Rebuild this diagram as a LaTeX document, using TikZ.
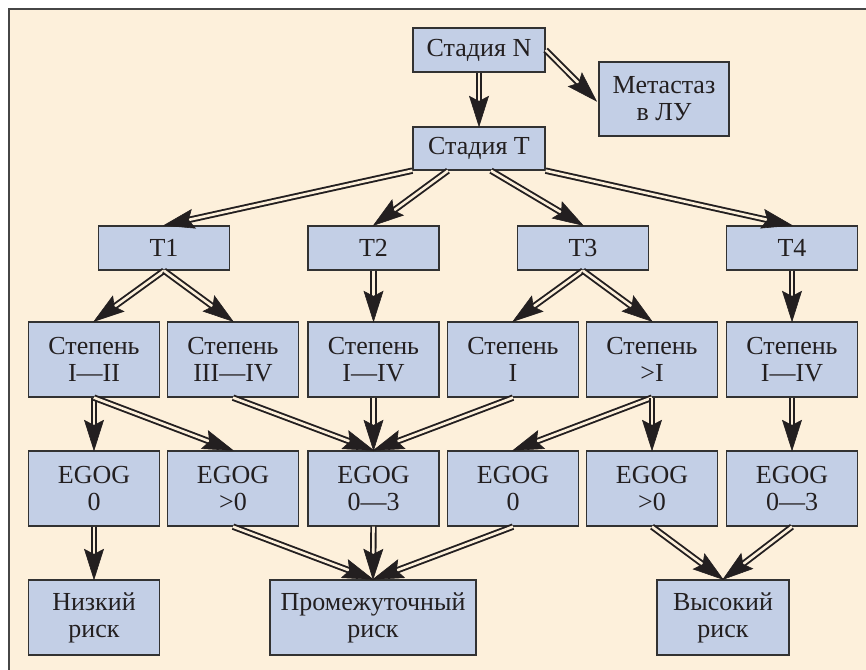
\documentclass[tikz,border=0pt]{standalone}
\usepackage{fontspec}
\setmainfont{Liberation Serif}
\usetikzlibrary{calc}
\definecolor{bg}{RGB}{253,240,219}
\definecolor{boxfill}{RGB}{195,207,230}
\definecolor{boxline}{RGB}{50,50,50}
\definecolor{framecol}{RGB}{70,70,70}
\definecolor{txt}{RGB}{35,31,32}
\newcommand\dblarr[2]{%
  \draw[dblline] (#1) -- (#2);
  \coordinate (tipback) at ($(#2)!30pt!(#1)$);
  \filldraw[tipst] (#2) -- ($(tipback)!9.5pt!90:(#2)$) -- ($(#2)!25pt!(#1)$)
     -- ($(tipback)!9.5pt!-90:(#2)$) -- cycle;}
\begin{document}
\begin{tikzpicture}[x=1pt,y=-1pt,
  box/.style={draw=boxline, fill=boxfill, line width=1.3pt, minimum width=131pt,
    minimum height=44pt, align=center, inner sep=0pt, text=txt,
    font=\fontsize{26}{27}\selectfont},
  tall/.style={box, minimum height=75pt},
  dblline/.style={draw=txt, line width=1.9pt, double=bg, double distance=2.6pt,
    shorten >=23pt},
  tipst/.style={draw=txt, fill=txt, line width=0.6pt, line join=miter}]
\useasboundingbox (0,0) rectangle (866,669);
\begin{scope}
\clip (0,0) rectangle (866,669);
\fill[white] (0,0) rectangle (866,669);
\draw[fill=bg, draw=framecol, line width=1.5pt] (9,9) rectangle (890,700);
\end{scope}
% row 0
\node[box, minimum width=132pt] (N) at (479,50) {Стадия N};
\node[tall, minimum width=130pt, minimum height=74pt] (M) at (664,99) {Метастаз\\в ЛУ};
\node[box, minimum width=132pt, minimum height=43pt] (T) at (479,148.5) {Стадия T};
% T row
\node[box] (T1) at (164,248) {T1};
\node[box] (T2) at (373.5,248) {T2};
\node[box] (T3) at (583,248) {T3};
\node[box] (T4) at (792,248) {T4};
% degree row
\node[tall] (S1) at (94,359.5) {Степень\\I—II};
\node[tall] (S2) at (233,359.5) {Степень\\III—IV};
\node[tall] (S3) at (373.5,359.5) {Степень\\I—IV};
\node[tall] (S4) at (513,359.5) {Степень\\I};
\node[tall] (S5) at (652,359.5) {Степень\\>I};
\node[tall] (S6) at (792,359.5) {Степень\\I—IV};
% EGOG row
\node[tall] (E1) at (94,488.5) {EGOG\\0};
\node[tall] (E2) at (233,488.5) {EGOG\\>0};
\node[tall] (E3) at (373.5,488.5) {EGOG\\0—3};
\node[tall] (E4) at (513,488.5) {EGOG\\0};
\node[tall] (E5) at (652,488.5) {EGOG\\>0};
\node[tall] (E6) at (792,488.5) {EGOG\\0—3};
% risk row
\node[tall] (R1) at (94,617.5) {Низкий\\риск};
\node[tall, minimum width=206pt] (R2) at (373,617.5) {Промежуточный\\риск};
\node[tall, minimum width=132pt] (R3) at (723,617.5) {Высокий\\риск};
% connectors
\coordinate (Mtip) at ($(M.west)+(-2,2)$);
\coordinate (T2s) at ($(T.south)+(-31,0)$);
\coordinate (T3s) at ($(T.south)+(12,0)$);
\dblarr{N.south}{T.north}
\dblarr{N.east}{Mtip}
\dblarr{T.south west}{T1.north}
\dblarr{T2s}{T2.north}
\dblarr{T3s}{T3.north}
\dblarr{T.south east}{T4.north}
\dblarr{T1.south}{S1.north}
\dblarr{T1.south}{S2.north}
\dblarr{T2.south}{S3.north}
\dblarr{T3.south}{S4.north}
\dblarr{T3.south}{S5.north}
\dblarr{T4.south}{S6.north}
\dblarr{S1.south}{E1.north}
\dblarr{S1.south}{E2.north}
\dblarr{S2.south}{E3.north}
\dblarr{S3.south}{E3.north}
\dblarr{S4.south}{E3.north}
\dblarr{S5.south}{E4.north}
\dblarr{S5.south}{E5.north}
\dblarr{S6.south}{E6.north}
\dblarr{E1.south}{R1.north}
\dblarr{E2.south}{R2.north}
\dblarr{E3.south}{R2.north}
\dblarr{E4.south}{R2.north}
\dblarr{E5.south}{R3.north}
\dblarr{E6.south}{R3.north}
\end{tikzpicture}
\end{document}
